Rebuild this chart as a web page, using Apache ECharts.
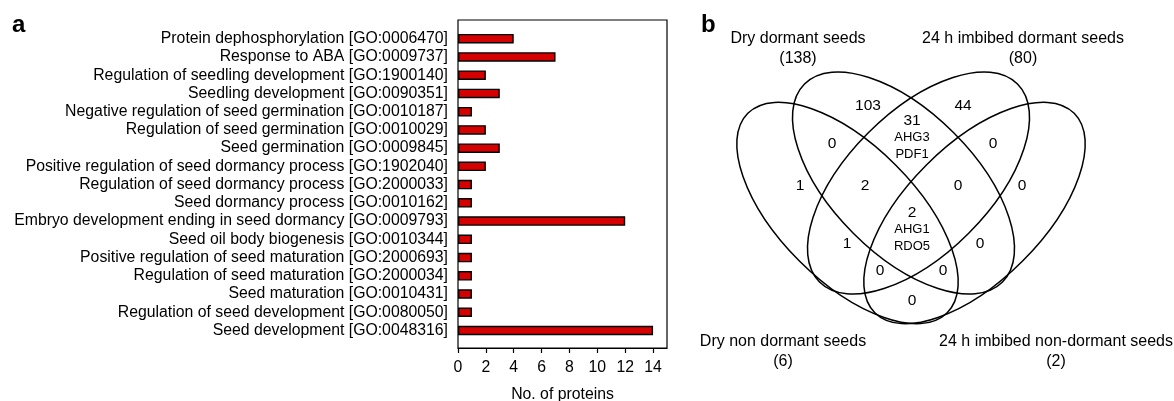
<!DOCTYPE html>
<html>
<head>
<meta charset="utf-8">
<script src="https://cdn.jsdelivr.net/npm/echarts@6/dist/echarts.min.js"></script>
<style>
  html, body { margin: 0; padding: 0; background: #fff; }
  #chart { width: 1174px; height: 401px; }
</style>
</head>
<body>
<div id="chart"></div>
<script>
// panel a: GO terms (top to bottom) and number of proteins
var goTerms = [
  'Protein dephosphorylation [GO:0006470]',
  'Response to ABA [GO:0009737]',
  'Regulation of seedling development [GO:1900140]',
  'Seedling development [GO:0090351]',
  'Negative regulation of seed germination [GO:0010187]',
  'Regulation of seed germination [GO:0010029]',
  'Seed germination [GO:0009845]',
  'Positive regulation of seed dormancy process [GO:1902040]',
  'Regulation of seed dormancy process [GO:2000033]',
  'Seed dormancy process [GO:0010162]',
  'Embryo development ending in seed dormancy [GO:0009793]',
  'Seed oil body biogenesis [GO:0010344]',
  'Positive regulation of seed maturation [GO:2000693]',
  'Regulation of seed maturation [GO:2000034]',
  'Seed maturation [GO:0010431]',
  'Regulation of seed development [GO:0080050]',
  'Seed development [GO:0048316]'
];
var proteinCounts = [4, 7, 2, 3, 1, 2, 3, 2, 1, 1, 12, 1, 1, 1, 1, 1, 14];
var xTicks = [0, 2, 4, 6, 8, 10, 12, 14];

// panel b: four-set Venn (A = dry non dormant, B = dry dormant,
// C = 24 h imbibed dormant, D = 24 h imbibed non-dormant)
var vennSets = ['Dry dormant seeds', '24 h imbibed dormant seeds',
                'Dry non dormant seeds', '24 h imbibed non-dormant seeds'];
var vennTotals = [138, 80, 6, 2];
var vennRegions = ['B', 'C', 'BC', 'AB', 'CD', 'A', 'ABC', 'BCD', 'D',
                   'ABCD', 'AC', 'BD', 'ACD', 'ABD', 'AD'];
var vennCounts = [103, 44, 31, 0, 0, 1, 2, 0, 0, 2, 1, 0, 0, 0, 0];
var vennGenes = [[], [], ['AHG3', 'PDF1'], [], [], [], [], [], [],
                 ['AHG1', 'RDO5'], [], [], [], [], []];

// venn layout, in venn units (x from symmetry axis, y from top)
var ellipseLayout = [ // cx, cy, rx, ry, rotation (deg, anticlockwise)
  [-63.5, 213, 141, 68, -45],
  [-7.5, 183, 140, 71, -45],
  [7.5, 183, 140, 71, 45],
  [63.5, 213, 141, 68, 45]
];
var regionPos = [[-43, 106], [52, 106], [1, 121], [-79, 144], [82, 144],
  [-111, 186], [-46, 186], [47, 186], [111, 186], [1, 213], [-64, 244],
  [69, 244], [-31, 271], [32, 271], [1, 301]];
var titlePos = [[-113, 38.5], [112, 38.5], [-128, 341.5], [145, 341.5]];

var FONT = '"Liberation Sans", Arial, sans-serif';

var chart = echarts.init(document.getElementById('chart'));

chart.setOption({
  animation: false,
  backgroundColor: '#fff',
  textStyle: { fontFamily: FONT, color: '#000' },
  graphic: [
    { type: 'text', x: 12, y: 37, style: { text: 'a', font: 'bold 24px ' + FONT, fill: '#000', verticalAlign: 'bottom' } },
    { type: 'text', x: 701, y: 37, style: { text: 'b', font: 'bold 24px ' + FONT, fill: '#000', verticalAlign: 'bottom' } }
  ],
  grid: [
    // bars
    { left: 458, right: 507, top: 29.6, bottom: 61.4, outerBoundsMode: 'none' },
    // frame with x axis
    { left: 458, right: 507, top: 20, bottom: 53, outerBoundsMode: 'none', show: true, borderColor: '#000', borderWidth: 1.2, backgroundColor: 'transparent' },
    // venn
    { left: 690, right: 0, top: 0, bottom: 0, outerBoundsMode: 'none' }
  ],
  xAxis: [
    { gridIndex: 0, type: 'value', min: 0, max: 15, show: false },
    {
      gridIndex: 1, type: 'value', min: 0, max: 15,
      name: 'No. of proteins', nameLocation: 'middle', nameGap: 38.5,
      nameTextStyle: { fontSize: 15.8, color: '#000' },
      axisLine: { show: true, lineStyle: { color: '#000', width: 1.2 } },
      axisTick: { show: true, customValues: xTicks, length: 5, lineStyle: { color: '#000', width: 1.2 } },
      axisLabel: { customValues: xTicks, fontSize: 15.8, color: '#000', margin: 11.5 },
      splitLine: { show: false }
    },
    { gridIndex: 2, type: 'value', min: -221, max: 263, show: false }
  ],
  yAxis: [
    {
      gridIndex: 0, type: 'category', data: goTerms, inverse: true,
      axisLine: { show: false }, axisTick: { show: false },
      axisLabel: { interval: 0, fontSize: 15.8, color: '#000', margin: 10 }
    },
    { gridIndex: 1, type: 'value', show: false },
    { gridIndex: 2, type: 'value', min: 0, max: 401, inverse: true, show: false }
  ],
  series: [
    {
      type: 'bar', xAxisIndex: 0, yAxisIndex: 0,
      data: proteinCounts, barWidth: 9.5,
      itemStyle: { color: '#d50000', borderColor: '#000', borderWidth: 1.4 }
    },
    {
      // venn ellipses
      type: 'custom', xAxisIndex: 2, yAxisIndex: 2,
      data: ellipseLayout.map(function (e) { return [e[0], e[1]]; }),
      renderItem: function (params, api) {
        var e = ellipseLayout[params.dataIndex];
        var c = api.coord([api.value(0), api.value(1)]);
        var s = api.size([e[2], e[3]]);
        return {
          type: 'ellipse', x: c[0], y: c[1], rotation: e[4] * Math.PI / 180,
          shape: { cx: 0, cy: 0, rx: s[0], ry: s[1] },
          style: { fill: 'none', stroke: '#000', lineWidth: 1.5 }
        };
      }
    },
    {
      // venn region counts
      type: 'custom', xAxisIndex: 2, yAxisIndex: 2,
      data: vennCounts.map(function (v, i) { return [regionPos[i][0], regionPos[i][1], v]; }),
      renderItem: function (params, api) {
        var c = api.coord([api.value(0), api.value(1)]);
        var genes = vennGenes[params.dataIndex];
        var children = [{
          type: 'text', x: c[0], y: c[1],
          style: { text: String(api.value(2)), font: '15.5px ' + FONT, fill: '#000', align: 'center', verticalAlign: 'middle' }
        }];
        genes.forEach(function (g, k) {
          children.push({
            type: 'text', x: c[0], y: c[1] + 16.5 * (k + 1),
            style: { text: g, font: '13px ' + FONT, fill: '#000', align: 'center', verticalAlign: 'middle' }
          });
        });
        return { type: 'group', children: children };
      }
    },
    {
      // venn set titles
      type: 'custom', xAxisIndex: 2, yAxisIndex: 2,
      data: vennTotals.map(function (v, i) { return [titlePos[i][0], titlePos[i][1], v]; }),
      renderItem: function (params, api) {
        var c = api.coord([api.value(0), api.value(1)]);
        return {
          type: 'group',
          children: [
            { type: 'text', x: c[0], y: c[1], style: { text: vennSets[params.dataIndex], font: '16px ' + FONT, fill: '#000', align: 'center', verticalAlign: 'middle' } },
            { type: 'text', x: c[0], y: c[1] + 20, style: { text: '(' + api.value(2) + ')', font: '16px ' + FONT, fill: '#000', align: 'center', verticalAlign: 'middle' } }
          ]
        };
      }
    }
  ]
});
</script>
</body>
</html>
